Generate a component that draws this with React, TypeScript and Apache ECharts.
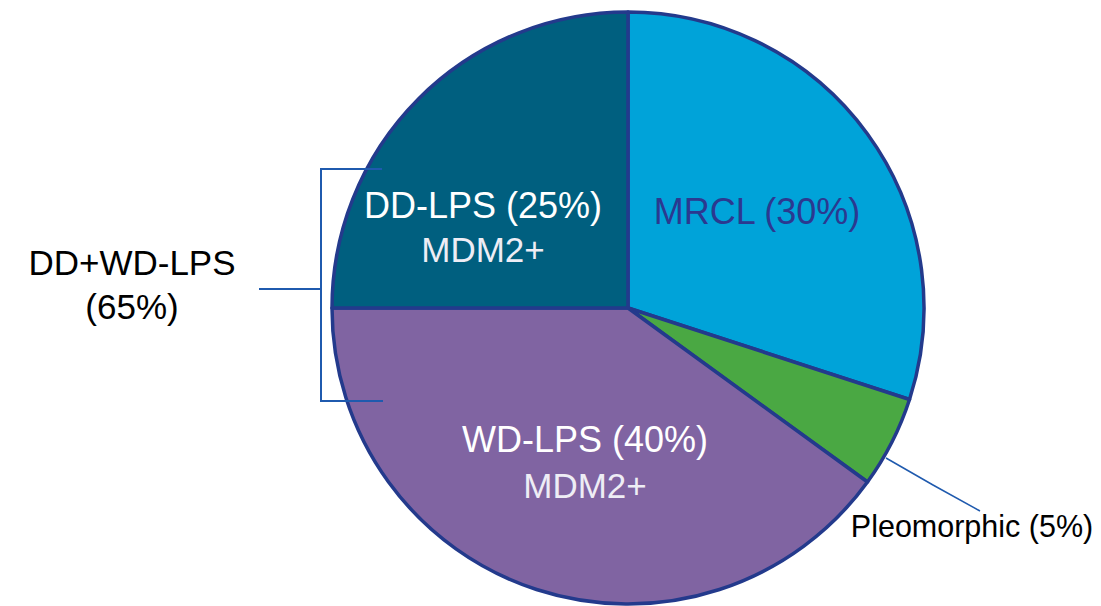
import React, { useEffect, useRef } from "react";
import * as echarts from "echarts";

// Liposarcoma subtypes, in clockwise order from 12 o'clock
const subtypes = ["MRCL", "Pleomorphic", "WD-LPS", "DD-LPS"];
const shares = [30, 5, 40, 25];
const markers = ["", "", "MDM2+", "MDM2+"];
const sliceColors = ["#00A3D9", "#4AA843", "#8064A2", "#005F7F"];
const labelColors = ["#2B3990", "#000000", "#FFFFFF", "#FFFFFF"];

// the bracketed group on the left (DD-LPS + WD-LPS)
const groupName = "DD+WD-LPS";
const groupMembers = ["DD-LPS", "WD-LPS"];

const FONT = "'Liberation Sans', Arial, Helvetica, sans-serif";

// label anchor points (pixel centres of each label block)
const labelAnchors: [number, number][] = [
  [757, 211],
  [972, 526],
  [585, 462],
  [483, 227],
];

// leader line for the small outside label
const leaderLine: [number, number][] = [
  [886, 458],
  [933, 485],
  [980, 511],
];

export default function App() {
  const ref = useRef<HTMLDivElement>(null);

  useEffect(() => {
    document.body.style.margin = "0";
    if (!ref.current) return;
    const chart = echarts.init(ref.current, undefined, { renderer: "svg" });

    const groupShare = subtypes.reduce(
      (s, n, i) => (groupMembers.includes(n) ? s + shares[i] : s),
      0
    );

    const data = subtypes.map((name, i) => {
      const isOutside = name === "Pleomorphic";
      const main = `${name} (${shares[i]}%)`;
      return {
        name,
        value: shares[i],
        itemStyle: { color: sliceColors[i] },
        label: {
          show: true,
          position: isOutside ? "outside" : "inside",
          formatter: markers[i] ? `{a|${main}}\n{b|${markers[i]}}` : `{a|${main}}`,
          rich: {
            a: {
              fontFamily: FONT,
              fontSize: isOutside ? 30.5 : 36,
              color: labelColors[i],
              lineHeight: i === 2 ? 46 : 44,
              align: "center",
            },
            b: {
              fontFamily: FONT,
              fontSize: 35,
              color: "#EEEDF5",
              lineHeight: i === 2 ? 46 : 44,
              align: "center",
            },
          },
        },
        labelLine: isOutside
          ? { show: true, length: 60, length2: 0, lineStyle: { color: "#1F5AAE", width: 1.5 } }
          : { show: false },
      };
    });

    chart.setOption({
      animation: false,
      backgroundColor: "#FFFFFF",
      series: [
        {
          type: "pie",
          center: [628, 308],
          radius: 296,
          startAngle: 90,
          clockwise: true,
          avoidLabelOverlap: false,
          itemStyle: { borderColor: "#233A8C", borderWidth: 3.5 },
          emphasis: { disabled: true },
          labelLine: { show: false },
          labelLayout: (params: any) => {
            const p = labelAnchors[params.dataIndex];
            const out: any = { x: p[0], y: p[1], align: "center", verticalAlign: "middle" };
            if (subtypes[params.dataIndex] === "Pleomorphic") out.labelLinePoints = leaderLine;
            return out;
          },
          data,
        },
      ],
      graphic: [
        {
          type: "polyline",
          z: 100,
          shape: { points: [[382, 169], [321, 169], [321, 401], [383, 401]] },
          style: { stroke: "#1F5AAE", lineWidth: 2, fill: null },
        },
        {
          type: "line",
          z: 100,
          shape: { x1: 259, y1: 289, x2: 321, y2: 289 },
          style: { stroke: "#1F5AAE", lineWidth: 2 },
        },
        {
          type: "text",
          z: 100,
          x: 132,
          y: 284,
          style: {
            text: `${groupName}\n(${groupShare}%)`,
            fontFamily: FONT,
            fontSize: 35,
            lineHeight: 44,
            fill: "#000000",
            align: "center",
            verticalAlign: "middle",
          },
        },
      ],
    });

    return () => chart.dispose();
  }, []);

  return <div ref={ref} style={{ width: 1101, height: 606 }} />;
}
